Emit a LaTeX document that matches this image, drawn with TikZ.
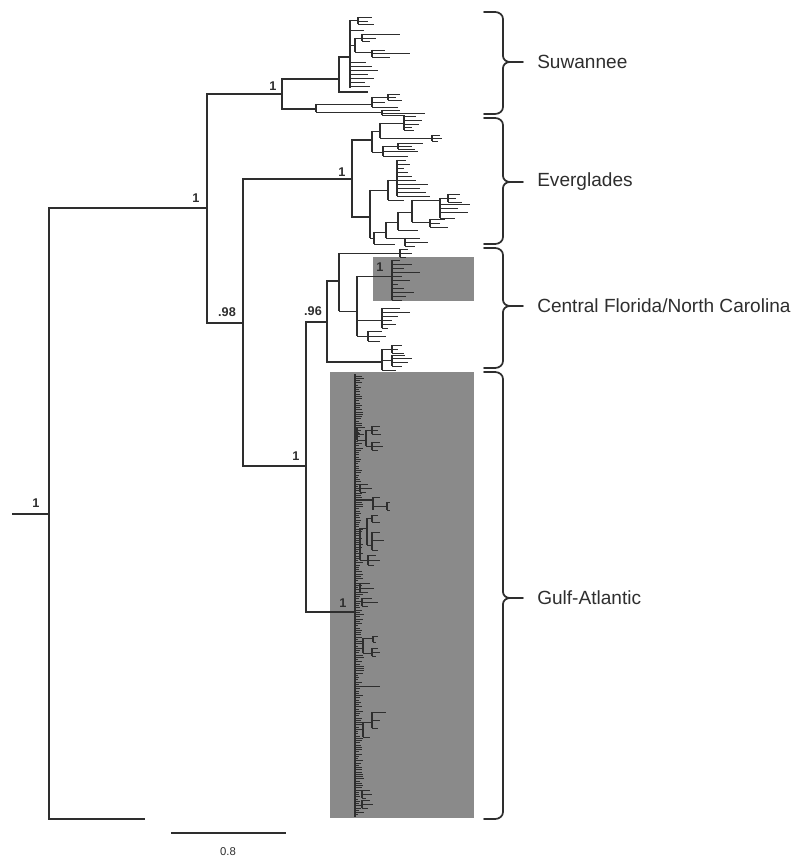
\documentclass[tikz,border=0pt]{standalone}
\usepackage{fontspec}
\setmainfont{Liberation Sans}
\definecolor{lc}{HTML}{2E2E2E}
\definecolor{gbox}{HTML}{8A8A8A}
\newcommand\clu[4]{%
  \draw[mid] (#1,#2) -- (#1,#3);
  \foreach \yy/\xx in {#4}{\draw[tipl] (#1,\yy) -- (\xx,\yy);}}
\newcommand\brc[3]{%
  \draw[brace] (484,#1) -- (495,#1) to[out=0,in=90] (503,#1+7) -- (503,#2-6) to[out=-90,in=180] (510,#2) -- (523,#2);
  \draw[brace] (510,#2) to[out=180,in=90] (503,#2+6) -- (503,#3-7) to[out=-90,in=0] (495,#3) -- (484,#3);}
\begin{document}
\begin{tikzpicture}[x=0.75pt,y=-0.75pt,
  br/.style={draw=lc,line width=1.5pt},
  mid/.style={draw=lc,line width=0.9pt},
  tipl/.style={draw=lc,line width=0.7pt},
  bs/.style={font=\bfseries\fontsize{9.5}{11}\selectfont,text=lc,inner sep=0pt},
  lab/.style={font=\fontsize{14.3}{17}\selectfont,text=lc,anchor=west,inner sep=0pt},
  brace/.style={draw=lc,line width=1.3pt,line cap=round,line join=round},
  ]
\useasboundingbox (0,0) rectangle (800,862);
% shaded boxes
\fill[gbox] (330,372) rectangle (474,818);
\fill[gbox] (373,257) rectangle (474,301);
% skeleton coordinates
\coordinate (r0) at (12,514);
\coordinate (R) at (49,514);
\coordinate (out) at (145,819);
\coordinate (A) at (207,208);
\coordinate (S) at (282,94);
\coordinate (B) at (243,323);
\coordinate (S1) at (339,79);
\coordinate (S2) at (316,109);
\coordinate (E) at (352,179);
\coordinate (C) at (306,466);
\coordinate (E1) at (372,140);
\coordinate (E2) at (370,217);
\coordinate (CF) at (327,322);
\coordinate (G) at (355,612);
\coordinate (CF1) at (339,281);
\coordinate (CF2) at (382,362);
\coordinate (S1a) at (350,57);
\coordinate (S1b) at (368,92);
% skeleton branches
\draw[br] (r0) -- (R);
\draw[br] (A) -| (R) |- (out);
\draw[br] (S) -| (A) |- (B);
\draw[br] (S1) -| (S) |- (S2);
\draw[br] (E) -| (B) |- (C);
\draw[br] (CF) -| (C) |- (G);
\draw[br] (E1) -| (E) |- (E2);
\draw[br] (CF1) -| (CF) |- (CF2);
\draw[mid] (S1a) -| (S1) |- (S1b);
% Suwannee
\clu{350}{20}{88}{20/358,30/364,45/355,62/366,66/372,70/378,74/368,78/374,82/365,86/370}
\clu{358}{17}{24}{17/372,21/368,24/374}
\clu{355}{38}{52}{38/362,52/372}
\clu{362}{34}{41}{34/400,38/376,41/370}
\clu{372}{50}{57}{50/385,53/410,57/390}
\clu{316}{104}{112}{104/372,112/382}
\clu{372}{97}{107}{97/388,102/385,107/398}
\clu{388}{94}{100}{94/400,97/396,100/402}
\clu{382}{110}{115}{110/400,113/425,115/405}
% Everglades
\clu{372}{131}{152}{131/380,152/383}
\clu{380}{123}{138}{123/404,138/432}
\clu{404}{116}{130}{116/416,120/422,124/419,127/412,130/414}
\clu{432}{135}{141}{135/440,138/442,141/438}
\clu{383}{146}{156}{146/398,151/418,156/408}
\clu{398}{143}{149}{143/423,146/412,149/415}
\clu{370}{190}{238}{190/388,238/374}
\clu{388}{180}{200}{180/397,200/404}
\clu{397}{160}{196}{160/406,164/410,168/404,172/408,176/412,180/416,184/428,188/420,192/426,196/430}
\clu{374}{232}{244}{232/386,244/395}
\clu{386}{222}{238}{222/398,238/405}
\clu{398}{212}{230}{212/412,230/418}
\clu{412}{200}{222}{200/440,222/430}
\clu{440}{198}{218}{198/448,204/470,208/458,212/468,218/455}
\clu{448}{194}{202}{194/460,198/456,202/462}
\clu{430}{219}{227}{219/445,223/440,227/448}
\clu{405}{238}{246}{238/420,242/428,246/415}
% Central Florida / North Carolina
\clu{339}{253}{311}{253/400,311/357}
\clu{400}{249}{257}{249/408,253/412,257/406}
\clu{357}{276}{336}{276/392,320/382,336/368}
\clu{392}{260}{300}{260/400,264/412,268/404,272/420,276/402,280/410,284/398,288/404,292/414,296/406,300/402}
\clu{382}{308}{328}{308/400,312/410,316/398,320/392,324/396,328/388}
\clu{368}{331}{341}{331/382,336/386,341/380}
\clu{382}{349}{370}{349/392,360/392,370/396}
\clu{392}{345}{353}{345/402,349/398,353/404}
\clu{392}{355}{366}{355/405,358/412,362/408,366/402}
% Gulf-Atlantic
\draw[mid] (355,374) -- (355,817);
\pgfmathsetseed{11}
\foreach \i in {0,...,195}{%
  \pgfmathsetmacro\yy{376+2.25*\i}%
  \pgfmathsetmacro\xx{358+6*rnd}%
  \draw[draw=lc,line width=0.55pt] (355,\yy) -- (\xx,\yy);}
\clu{357}{427}{440}{427/365,433/360,440/366}
\clu{366}{430}{446}{430/372,446/372}
\clu{372}{426}{434}{426/380,430/378,434/381}
\clu{372}{442}{450}{442/380,446/383,450/378}
\clu{360}{484}{492}{484/368,488/372,492/366}
\draw[mid] (355,500) -- (373,500);
\clu{373}{497}{510}{497/380,506/387}
\clu{387}{502}{510}{502/390,510/390}
\clu{360}{528}{560}{528/367,560/368}
\clu{367}{518}{545}{518/372,545/372}
\clu{372}{515}{522}{515/378,522/380}
\clu{372}{532}{550}{532/380,540/384,550/378}
\clu{368}{555}{565}{555/376,560/380,565/374}
\clu{360}{583}{592}{583/370,588/374,592/368}
\clu{362}{598}{606}{598/372,602/378,606/368}
\clu{363}{638}{653}{638/373,653/372}
\clu{373}{636}{642}{636/378,642/376}
\clu{372}{648}{656}{648/378,652/380,656/376}
\draw[tipl] (355,686) -- (380,686);
\clu{363}{722}{737}{722/372,737/370}
\clu{372}{712}{728}{712/386,720/380,728/378}
\clu{362}{790}{798}{790/370,794/372,798/366}
\clu{362}{800}{808}{800/370,804/373,808/368}
% support values
\node[bs] (b1) at (36,503) {1};
\node[bs] (b2) at (196,198) {1};
\node[bs] (b3) at (273,86) {1};
\node[bs] (b4) at (227,312) {.98};
\node[bs] (b5) at (342,172) {1};
\node[bs] (b6) at (296,456) {1};
\node[bs] (b7) at (313,311) {.96};
\node[bs] (b8) at (380,267) {1};
\node[bs] (b9) at (343,603) {1};
% braces and labels
\brc{12}{62}{114}
\brc{118}{182}{244}
\brc{248}{306}{368}
\brc{372}{598}{819}
\node[lab] (l1) at (537,62) {Suwannee};
\node[lab] (l2) at (537,182) {Everglades};
\node[lab] (l3) at (537,306) {Central Florida/North Carolina};
\node[lab] (l4) at (537,598) {Gulf-Atlantic};
% scale bar
\coordinate (sb1) at (171,833);
\coordinate (sb2) at (286,833);
\draw[br] (sb1) -- (sb2);
\node[font=\fontsize{8.5}{10}\selectfont,text=lc,inner sep=0pt] (sbl) at (228,852) {0.8};
\end{tikzpicture}
\end{document}
